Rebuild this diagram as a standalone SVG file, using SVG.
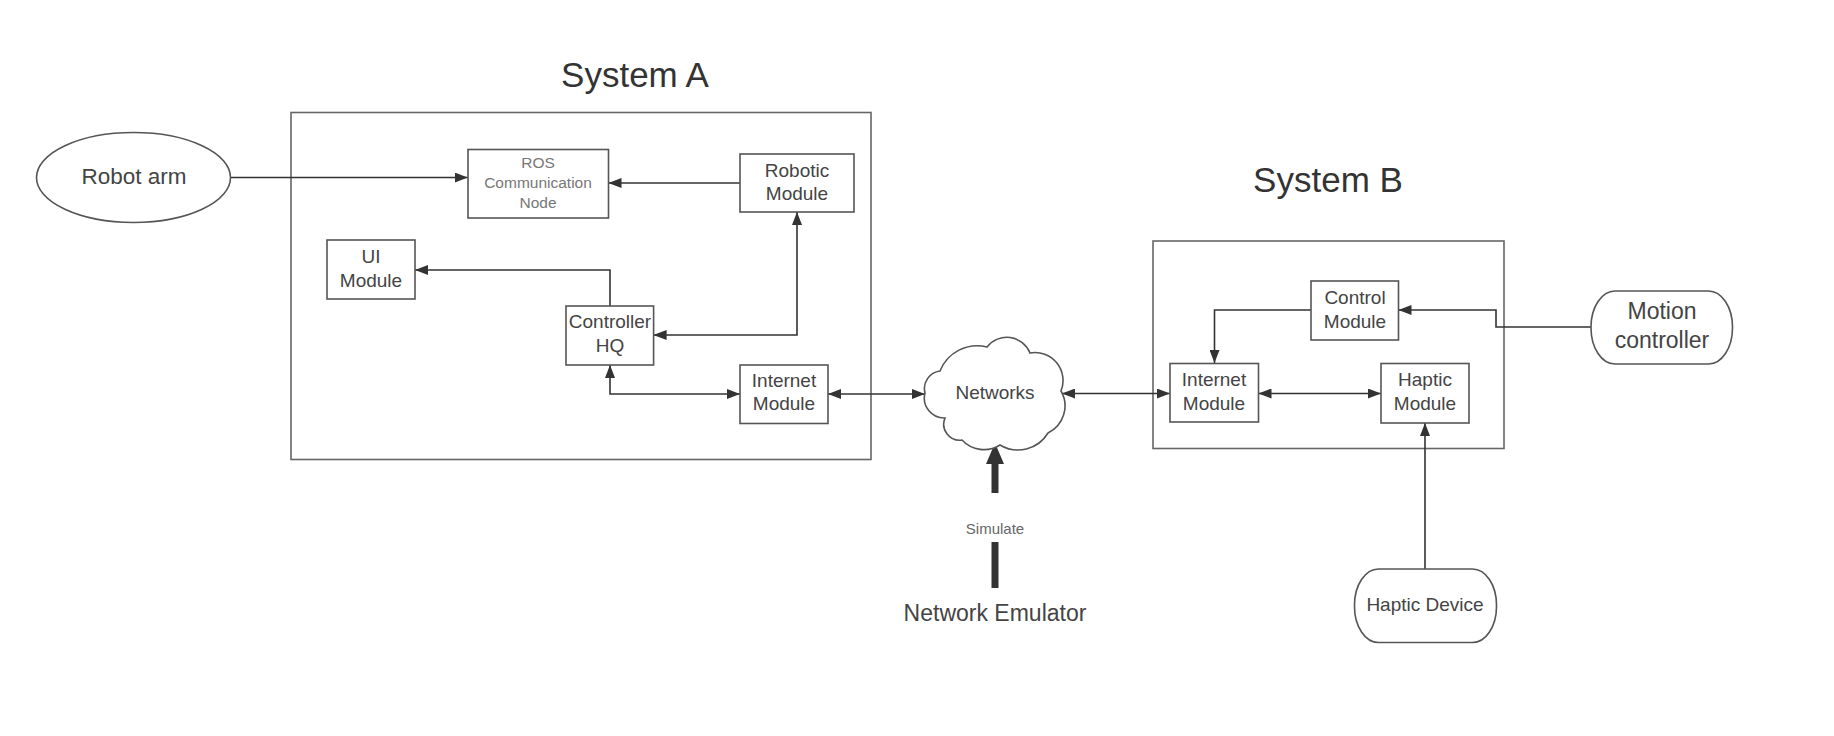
<svg xmlns="http://www.w3.org/2000/svg" width="1834" height="736" viewBox="0 0 1834 736">
<style>
.box{fill:#fff;stroke:#555;stroke-width:1.6}
.frame{fill:none;stroke:#666;stroke-width:1.6}
.t{font-family:"Liberation Sans",Arial,sans-serif;fill:#444;text-anchor:middle;dominant-baseline:central}
.m{font-size:19px}
.s{font-size:15.5px;fill:#777}
.l{font-size:23px}
.title{font-size:35px;fill:#333}
.c{fill:none;stroke:#333;stroke-width:1.6}
.a{marker-end:url(#ah)}
.b{marker-start:url(#ah);marker-end:url(#ah)}
</style>
<defs>
<marker id="ah" markerUnits="userSpaceOnUse" markerWidth="13" markerHeight="10" refX="13" refY="5" orient="auto-start-reverse">
<path d="M0,0 L13,5 L0,10 z" fill="#333"/>
</marker>
</defs>
<rect width="1834" height="736" fill="#fff"/>

<g id="systemA">
<rect class="frame" x="291" y="112.5" width="580" height="347"/>
<text class="t title" x="635" y="74">System A</text>
</g>
<g id="systemB">
<rect class="frame" x="1153" y="241" width="351" height="207.5"/>
<text class="t title" x="1328" y="179">System B</text>
</g>

<g id="connectors">
<path class="c a" d="M230,177.5 H467.7"/>
<path class="c a" d="M740,183 H608.5"/>
<path class="c a" d="M610,306 V270 H415"/>
<path class="c b" d="M797,212 V335 H653.6"/>
<path class="c b" d="M610,365 V394 H740"/>
<path class="c b" d="M828,394 H925"/>
<path class="c b" d="M1062,393.5 H1170"/>
<path class="c a" d="M1311,310 H1214.5 V363"/>
<path class="c b" d="M1258.5,393.5 H1381"/>
<path class="c a" d="M1591,327 H1496 V310 H1398.5"/>
<path class="c a" d="M1425,569 V423"/>
<path d="M995,443 L1004,464 L986,464 z" fill="#333"/>
<rect x="991.5" y="463" width="7" height="30" fill="#333"/>
<rect x="991.5" y="542" width="7" height="46" fill="#333"/>
<text class="t" x="995" y="528" style="font-size:15px;fill:#666">Simulate</text>
</g>

<g id="robot-arm">
<ellipse cx="133.5" cy="177.5" rx="97" ry="45" fill="#fff" stroke="#555" stroke-width="1.6"/>
<text class="t" x="134" y="176" style="font-size:22.5px">Robot arm</text>
</g>
<g id="ros-node">
<rect class="box" x="468" y="149.5" width="140.5" height="68.5"/>
<text class="t s" x="538" y="162">ROS</text>
<text class="t s" x="538" y="182.5">Communication</text>
<text class="t s" x="538" y="202.5">Node</text>
</g>
<g id="robotic-module">
<rect class="box" x="740" y="154" width="114" height="58"/>
<text class="t m" x="797" y="170">Robotic</text>
<text class="t m" x="797" y="193.5">Module</text>
</g>
<g id="ui-module">
<rect class="box" x="327" y="240" width="88" height="59"/>
<text class="t m" x="371" y="256">UI</text>
<text class="t m" x="371" y="280">Module</text>
</g>
<g id="controller-hq">
<rect class="box" x="566" y="306" width="87.6" height="59"/>
<text class="t m" x="610" y="321">Controller</text>
<text class="t m" x="610" y="345">HQ</text>
</g>
<g id="internet-module-a">
<rect class="box" x="740" y="365" width="88" height="58.5"/>
<text class="t m" x="784" y="380">Internet</text>
<text class="t m" x="784" y="403.5">Module</text>
</g>
<g id="networks">
<path d="M925,393 A17.7,17.7 0 0 1 940,371 A40,40 0 0 1 987,347 A25,25 0 0 1 1030,353 A28,28 0 0 1 1061,391 A30,30 0 0 1 1048,433 A35,35 0 0 1 1000,445 A30,30 0 0 1 962,440 A16,16 0 0 1 945,418 A20,20 0 0 1 925,393 z" fill="#fff" stroke="#555" stroke-width="1.6"/>
<text class="t m" x="995" y="392">Networks</text>
</g>
<g id="internet-module-b">
<rect class="box" x="1170" y="363.5" width="88.5" height="58.5"/>
<text class="t m" x="1214" y="379">Internet</text>
<text class="t m" x="1214" y="403">Module</text>
</g>
<g id="control-module">
<rect class="box" x="1311" y="281" width="87.5" height="59"/>
<text class="t m" x="1355" y="297">Control</text>
<text class="t m" x="1355" y="321">Module</text>
</g>
<g id="haptic-module">
<rect class="box" x="1381" y="363.5" width="88" height="59.5"/>
<text class="t m" x="1425" y="379">Haptic</text>
<text class="t m" x="1425" y="403">Module</text>
</g>
<g id="motion-controller">
<rect class="box" x="1591" y="291" width="141.5" height="73" rx="24" ry="36"/>
<text class="t l" x="1662" y="311">Motion</text>
<text class="t l" x="1662" y="339.5">controller</text>
</g>
<g id="haptic-device">
<rect class="box" x="1354.5" y="569" width="142" height="73.5" rx="24" ry="36"/>
<text class="t m" x="1425" y="604">Haptic Device</text>
</g>
<g id="network-emulator">
<text class="t l" x="995" y="613">Network Emulator</text>
</g>
</svg>
